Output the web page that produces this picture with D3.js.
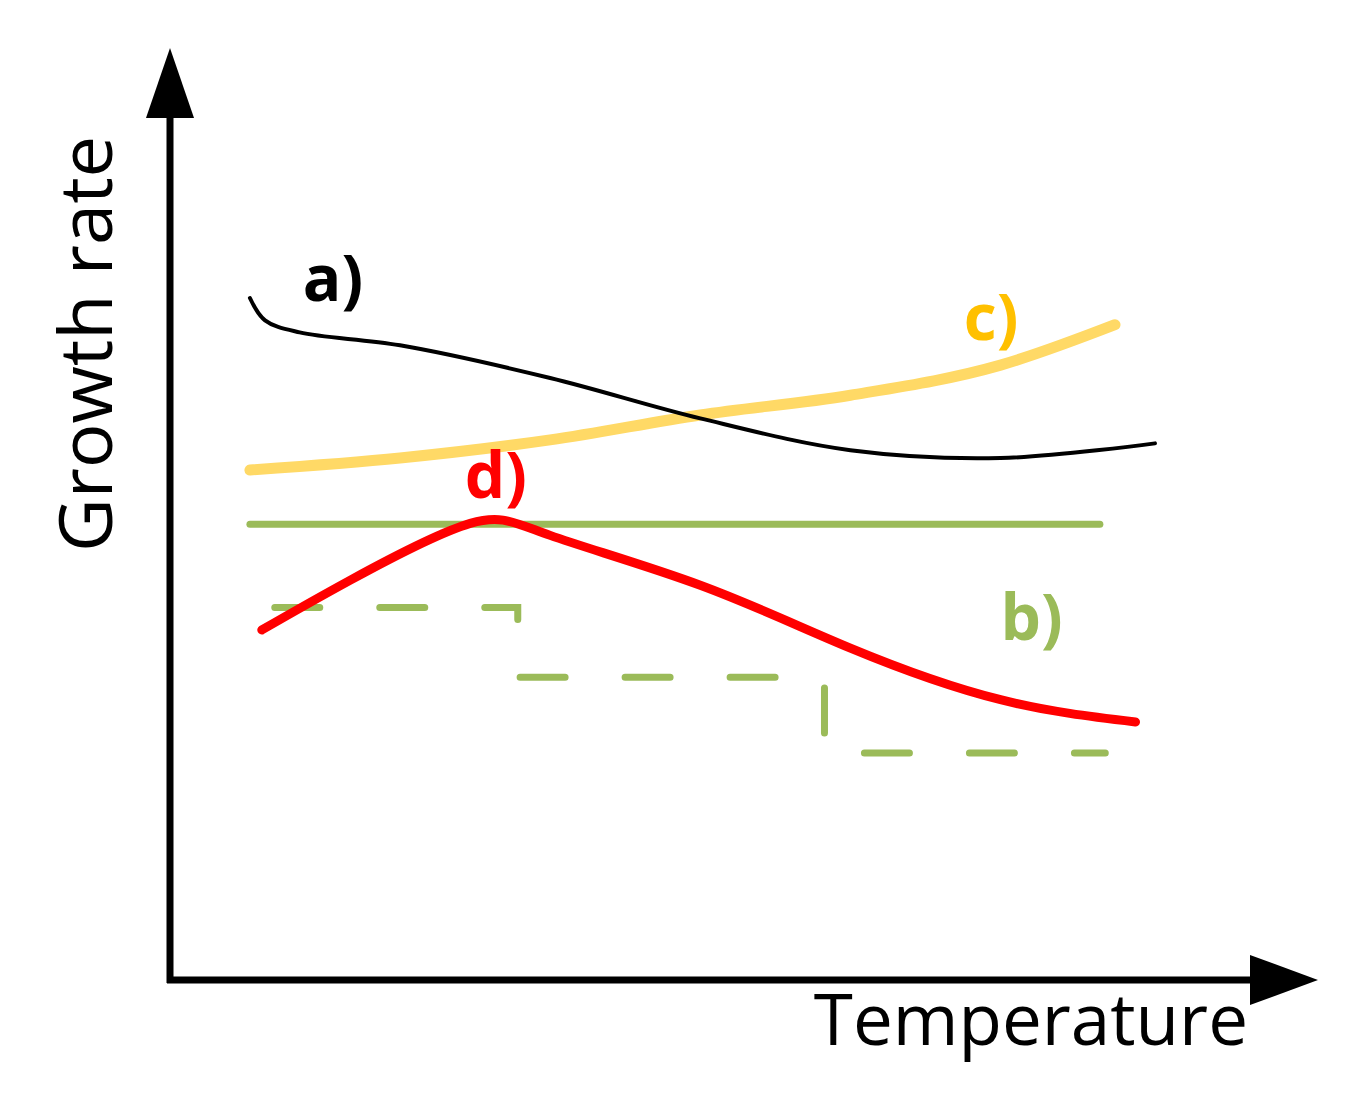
<!DOCTYPE html>
<html><head><meta charset="utf-8">
<script src="https://cdn.jsdelivr.net/npm/d3@7"></script>
<style>body{margin:0;background:#fff}</style>
</head><body>
<script>
// Schematic curves (x: temperature 0-100, y: growth rate 0-100)
const curveA = [[7.4,79.3],[8.8,76.7],[12.0,75.3],[21.3,73.8],[35.2,70.0],[49.1,65.3],[63.0,61.6],[76.9,60.7],[91.2,62.4]];
const curveC = [[7.4,59.3],[21.3,60.7],[35.2,62.8],[49.1,65.7],[63.0,68.0],[76.9,71.5],[87.5,76.2]];
const curveD = [[8.5,40.7],[16.7,46.5],[27.8,53.1],[35.2,51.7],[49.1,45.9],[63.0,38.6],[76.9,32.6],[89.4,30.0]];
const lineB = [[7.4,53.0],[86.1,53.0]];
const stepB = [[9.7,43.3],[32.2,35.2],[60.6,26.4],[86.6,26.4]];
const labels = [
  {t:"a)", x:12.3, y:79.0, c:"#000"},
  {t:"c)", x:73.5, y:74.4, c:"#FFC000"},
  {t:"d)", x:27.3, y:56.0, c:"#FF0000"},
  {t:"b)", x:76.9, y:39.5, c:"#9BBB59"}
];

const W = 1364, H = 1100;
const svg = d3.select("body").append("svg").attr("width", W).attr("height", H);
const x = d3.scaleLinear().domain([0,100]).range([170,1250]);
const y = d3.scaleLinear().domain([0,100]).range([980,120]);
const font = "Open Sans, Lato, sans-serif";

// axes
svg.append("line").attr("x1",170).attr("y1",983).attr("x2",170).attr("y2",110).attr("stroke","#000").attr("stroke-width",7);
svg.append("line").attr("x1",167).attr("y1",980).attr("x2",1260).attr("y2",980).attr("stroke","#000").attr("stroke-width",7);
svg.append("path").attr("d","M170,48 L146,118 L194,118 Z").attr("fill","#000");
svg.append("path").attr("d","M1318,980 L1250,955 L1250,1005 Z").attr("fill","#000");

const line = d3.line().x(d => x(d[0])).y(d => y(d[1])).curve(d3.curveMonotoneX);

svg.append("path").attr("d", d3.line().x(d => x(d[0])).y(d => y(d[1]))(lineB))
  .attr("fill","none").attr("stroke","#9BBB59").attr("stroke-width",7).attr("stroke-linecap","round");
svg.append("path").attr("d", d3.line().x(d => x(d[0])).y(d => y(d[1])).curve(d3.curveStepAfter)(stepB))
  .attr("fill","none").attr("stroke","#9BBB59").attr("stroke-width",7)
  .attr("stroke-dasharray","45,60").attr("stroke-linecap","round");
svg.append("path").attr("d", line(curveC)).attr("fill","none").attr("stroke","#FFD966").attr("stroke-width",11).attr("stroke-linecap","round");
svg.append("path").attr("d", d3.line().x(d => x(d[0])).y(d => y(d[1])).curve(d3.curveCatmullRom)(curveA))
  .attr("fill","none").attr("stroke","#000").attr("stroke-width",4).attr("stroke-linecap","round");
svg.append("path").attr("d", d3.line().x(d => x(d[0])).y(d => y(d[1])).curve(d3.curveNatural)(curveD))
  .attr("fill","none").attr("stroke","#FF0000").attr("stroke-width",9).attr("stroke-linecap","round");

svg.selectAll("text.lab").data(labels).join("text").attr("class","lab")
  .attr("x", d => x(d.x)).attr("y", d => y(d.y)).attr("fill", d => d.c)
  .attr("font-family", font).attr("font-weight","bold").attr("font-size",64).text(d => d.t);

svg.append("text").attr("x",1248).attr("y",1045).attr("text-anchor","end")
  .attr("font-family", font).attr("font-size",71).text("Temperature");
svg.append("text").attr("transform","translate(112,344) rotate(-90)").attr("text-anchor","middle")
  .attr("font-family", font).attr("font-size",74).text("Growth rate");
</script>
</body></html>
